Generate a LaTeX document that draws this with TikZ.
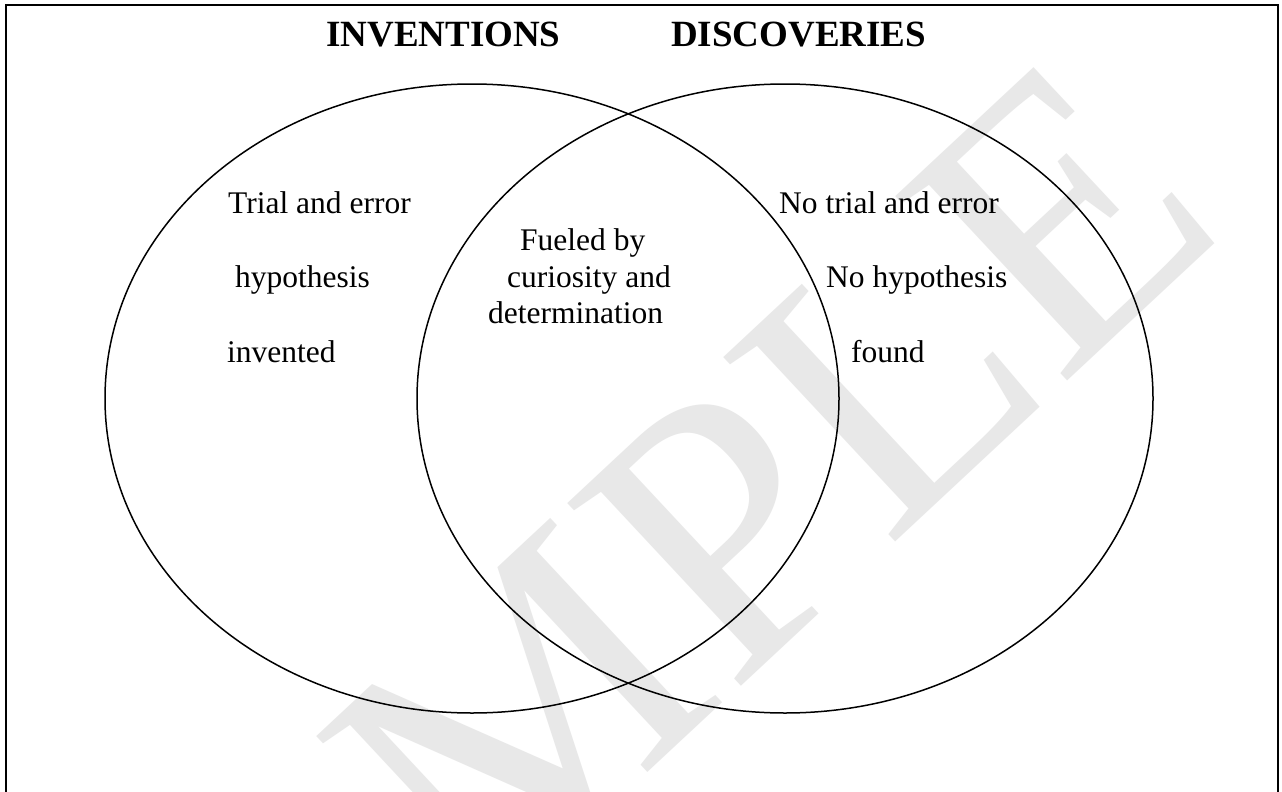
\documentclass[tikz,border=0pt]{standalone}
\usepackage{fontspec}
\setmainfont{Liberation Serif}
\begin{document}
\begin{tikzpicture}[x=1pt,y=-1pt,
  lbl/.style={anchor=base west,inner sep=0pt,font=\fontsize{31.5}{38}\selectfont},
  head/.style={anchor=base west,inner sep=0pt,font=\fontsize{37}{44}\selectfont\bfseries},
  venn/.style={draw=black,line width=1.5pt},
  wm/.style={anchor=base east,inner sep=0pt,text=black!9,font=\fontsize{385}{400}\selectfont}]
\useasboundingbox (0,0) rectangle (1282,792);
\clip (0,0) rectangle (1282,792);
\fill[white] (0,0) rectangle (1282,792);
% watermark
\node[wm,rotate=43] (wmark) at (1232,228) {SAMPLE};
% frame
\draw[line width=2pt] (6,5) rectangle (1278,820);
% circles
\draw[venn] (472,398.5) ellipse [x radius=367, y radius=314.5];
\draw[venn] (785,398.5) ellipse [x radius=368, y radius=314.5];
% headings
\node[head] (inv) at (326,47) {INVENTIONS};
\node[head] (dis) at (671,47) {DISCOVERIES};
% left
\node[lbl] (l1) at (228,213) {Trial and error};
\node[lbl] (l2) at (235,287) {hypothesis};
\node[lbl] (l3) at (227,362) {invented};
% middle
\node[lbl] (m1) at (520,250) {Fueled by};
\node[lbl] (m2) at (507,287) {curiosity and};
\node[lbl] (m3) at (488,323) {determination};
% right
\node[lbl] (r1) at (779,213) {No trial and error};
\node[lbl] (r2) at (826,287) {No hypothesis};
\node[lbl] (r3) at (851,362) {found};
\end{tikzpicture}
\end{document}
